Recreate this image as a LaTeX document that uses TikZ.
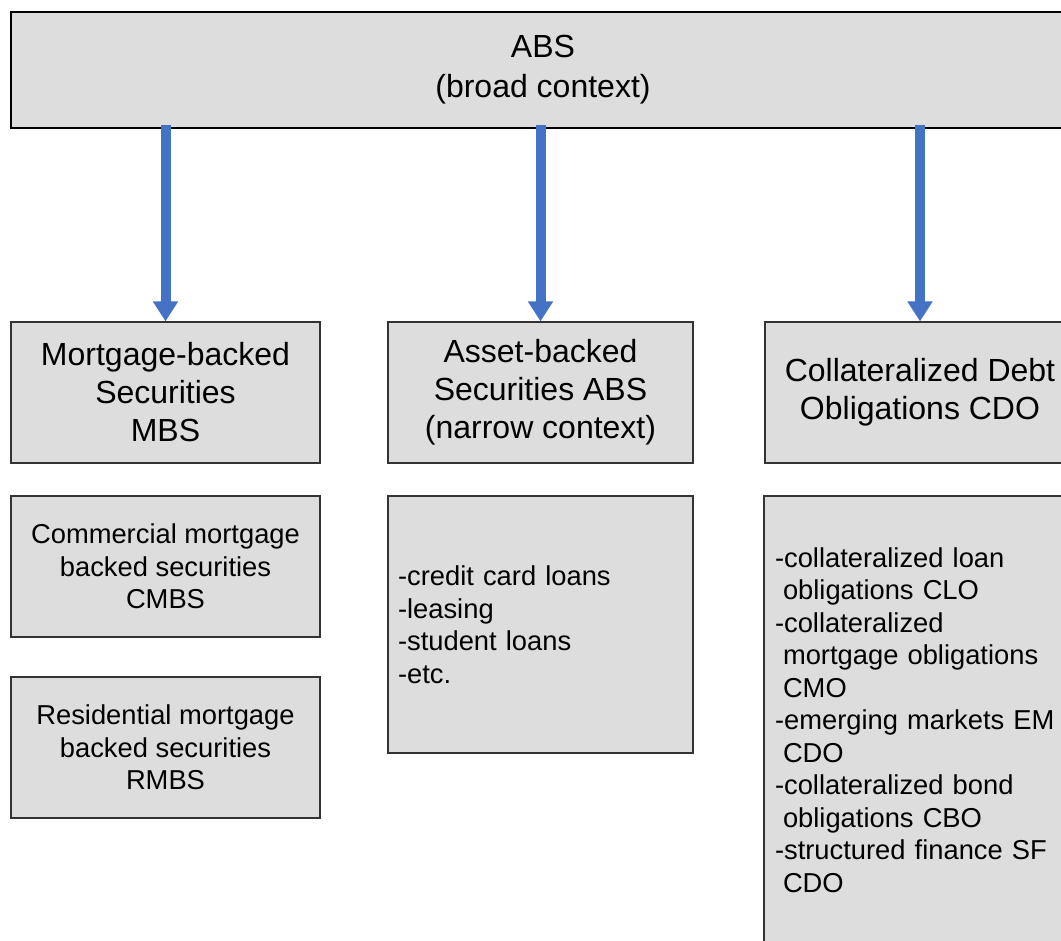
\documentclass[tikz,border=0pt]{standalone}
\usepackage{fontspec}
\setmainfont{Liberation Sans}
\usepackage{tikz}
\usetikzlibrary{arrows.meta, positioning}
\definecolor{boxgray}{HTML}{DDDDDD}
\definecolor{arrowblue}{HTML}{4472C4}

\begin{document}
\begin{tikzpicture}[x=0.75pt,y=-0.75pt]
    \tikzstyle{every node} = [font=\fontsize{20.5}{24.4}\selectfont]
    \tikzstyle{block} = [draw=black!80, line width=0.9pt, rectangle, fill=boxgray, inner sep=0pt, align=center]
    \tikzstyle{head} = [block, font=\fontsize{24}{28.5}\selectfont, minimum height=105.75pt]
    \tikzstyle{listbox} = [block, align=left, inner xsep=7.5pt]
    \tikzstyle{link} = [arrowblue, line width=7.5pt, -{Triangle[width=18pt,length=15pt]}]
    \useasboundingbox (0,0) rectangle (1061,940);
    \clip (0,0) rectangle (1061,940);
    % place nodes
    \node[block, font=\fontsize{24}{30}\selectfont, minimum width=798pt, minimum height=87pt, draw=black](absTop) at (543,70){ABS\\(broad context)};
    \node[head, minimum width=231.75pt](mbsHead) at (165.5,392.5){Mortgage-backed\\Securities\\MBS};
    \node[head, minimum width=228.75pt](absHead) at (540.5,392.5){Asset-backed\\Securities ABS\\(narrow context)};
    \node[head, minimum width=232.5pt](cdoHead) at (920,392.5){Collateralized Debt\\Obligations CDO};
    \node[block, minimum width=231.75pt, minimum height=105.75pt](cmbs) at (165.5,566.5){Commercial mortgage\\backed securities\\CMBS};
    \node[block, minimum width=231.75pt, minimum height=105.75pt](rmbs) at (165.5,747.5){Residential mortgage\\backed securities\\RMBS};
    \node[listbox, text width=213.75pt, minimum height=192.75pt](absList) at (540.5,624.5){-credit card loans\\-leasing\\-student loans\\-etc.};
    \node[listbox, text width=217.5pt, minimum height=336pt, inner xsep=8.25pt](cdoList) at (920,720){-collateralized loan\\
      \hspace*{6pt}obligations CLO\\-collateralized\\
      \hspace*{6pt}mortgage obligations\\\hspace*{6pt}CMO\\-emerging markets EM\\
      \hspace*{6pt}CDO\\-collateralized bond\\\hspace*{6pt}obligations CBO\\
      -structured finance SF\\\hspace*{6pt}CDO};
    % Connections
    \foreach \target in {mbsHead, absHead, cdoHead}
      \draw[link] ([yshift=3pt]absTop.south -| \target.north)--(\target.north);
\end{tikzpicture}
\end{document}
